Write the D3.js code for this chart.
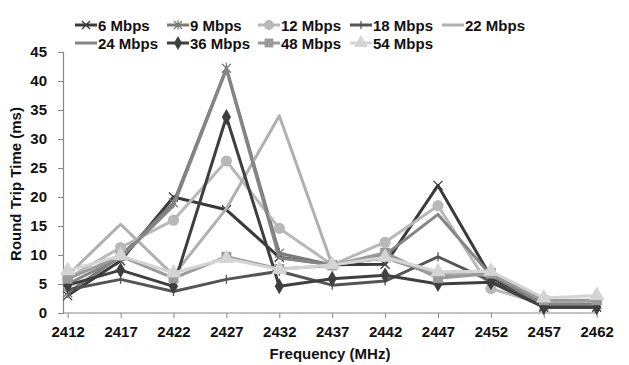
<!DOCTYPE html>
<html>
<head>
<meta charset="utf-8">
<script src="https://cdn.jsdelivr.net/npm/d3@7"></script>
<style>
  body { margin: 0; background: #fff; }
  text { font-family: "Liberation Sans Narrow", "Liberation Sans", Arial, sans-serif; font-weight: bold; fill: #111; }
</style>
</head>
<body>
<div id="chart"></div>
<script>
const frequencies = [2412, 2417, 2422, 2427, 2432, 2437, 2442, 2447, 2452, 2457, 2462];
const seriesNames = ['6 Mbps', '9 Mbps', '12 Mbps', '18 Mbps', '22 Mbps', '24 Mbps', '36 Mbps', '48 Mbps', '54 Mbps'];
const rtt6  = [3.0, 9.0, 20.0, 17.8, 9.6, 8.3, 8.4, 22.0, 6.2, 1.0, 1.0];
const rtt9  = [3.5, 9.8, 19.0, 42.2, 10.3, 8.3, 9.5, 6.5, 7.0, 1.2, 1.5];
const rtt12 = [6.0, 11.3, 16.0, 26.2, 14.6, 8.3, 12.2, 18.5, 4.2, 1.5, 1.8];
const rtt18 = [4.0, 5.8, 3.7, 5.8, 7.2, 4.8, 5.5, 9.7, 5.5, 1.3, 1.3];
const rtt22 = [6.5, 15.3, 6.5, 18.0, 34.0, 8.3, 9.5, 6.8, 6.5, 2.0, 2.2];
const rtt24 = [5.0, 9.5, 18.5, 42.0, 9.5, 8.3, 10.0, 17.0, 6.5, 1.5, 1.5];
const rtt36 = [4.8, 7.4, 4.6, 33.8, 4.6, 5.9, 6.5, 5.0, 5.3, 1.0, 1.0];
const rtt48 = [5.9, 9.8, 6.0, 9.7, 7.6, 8.2, 10.4, 6.0, 6.8, 2.2, 2.2];
const rtt54 = [7.3, 9.9, 6.9, 9.4, 7.5, 8.3, 9.6, 7.1, 7.2, 2.6, 3.0];
const yTicks = [0, 5, 10, 15, 20, 25, 30, 35, 40, 45];

const allValues = [rtt6, rtt9, rtt12, rtt18, rtt22, rtt24, rtt36, rtt48, rtt54];
const colors = ['#3a3a3a', '#7a7a7a', '#b8b8b8', '#555555', '#b0b0b0', '#858585', '#3f3f3f', '#9a9a9a', '#d4d4d4'];
const markers = ['x', 'star', 'circle', 'plus', 'none', 'none', 'diamond', 'square', 'triangle'];

const width = 629, height = 365;
const plotLeft = 63, plotTop = 52, plotBottom = 313;

const svg = d3.select('#chart').append('svg')
  .attr('width', width)
  .attr('height', height);

const x = d3.scalePoint().domain(frequencies).range([67.7, 596.7]);
const y = d3.scaleLinear().domain([0, 45]).range([plotBottom, plotTop]);

// axes
const yAxis = svg.append('g')
  .attr('transform', `translate(${plotLeft},0)`)
  .call(d3.axisLeft(y).tickValues(yTicks).tickSize(5).tickPadding(11));
yAxis.select('.domain').attr('stroke', '#888').attr('stroke-width', 1.2);
yAxis.selectAll('.tick line').attr('stroke', '#888');
yAxis.selectAll('text').style('font-size', '15px');

const xAxis = svg.append('g')
  .attr('transform', `translate(0,${plotBottom})`)
  .call(d3.axisBottom(x).tickSize(5).tickPadding(8));
xAxis.select('.domain').attr('d', `M${plotLeft},0H${597}`).attr('stroke', '#888').attr('stroke-width', 1.2);
xAxis.selectAll('.tick line').attr('stroke', '#888');
xAxis.selectAll('text').style('font-size', '15px');

svg.append('text')
  .attr('x', 330).attr('y', 359)
  .attr('text-anchor', 'middle')
  .style('font-size', '15px')
  .text('Frequency (MHz)');

svg.append('text')
  .attr('transform', 'translate(21,184) rotate(-90)')
  .attr('text-anchor', 'middle')
  .style('font-size', '15px')
  .text('Round Trip Time (ms)');

function drawMarker(g, type, color, size) {
  const s = size;
  if (type === 'circle') {
    g.append('circle').attr('r', s * 0.62).attr('fill', color);
  } else if (type === 'square') {
    g.append('rect').attr('x', -s * 0.55).attr('y', -s * 0.55).attr('width', s * 1.1).attr('height', s * 1.1).attr('fill', color);
  } else if (type === 'triangle') {
    g.append('path').attr('d', d3.symbol(d3.symbolTriangle, s * s * 1.3)()).attr('fill', color);
  } else if (type === 'diamond') {
    g.append('path').attr('d', d3.symbol(d3.symbolDiamond, s * s * 0.9)()).attr('fill', color);
  } else if (type === 'x') {
    g.append('path').attr('d', `M${-s/2},${-s/2}L${s/2},${s/2}M${-s/2},${s/2}L${s/2},${-s/2}`)
      .attr('stroke', color).attr('stroke-width', 1.3);
  } else if (type === 'star') {
    g.append('path').attr('d', `M${-s/2},${-s/2}L${s/2},${s/2}M${-s/2},${s/2}L${s/2},${-s/2}M0,${-s*0.6}V${s*0.6}`)
      .attr('stroke', color).attr('stroke-width', 1.3);
  } else if (type === 'plus') {
    g.append('path').attr('d', `M0,${-s/2}V${s/2}`)
      .attr('stroke', color).attr('stroke-width', 1.3);
  }
}

const line = d3.line()
  .x((d, i) => x(frequencies[i]))
  .y(d => y(d));

const plot = svg.append('g');
allValues.forEach((vals, k) => {
  const g = plot.append('g').attr('class', 'series');
  g.append('path')
    .datum(vals)
    .attr('d', line)
    .attr('fill', 'none')
    .attr('stroke', colors[k])
    .attr('stroke-width', 3)
    .attr('stroke-linejoin', 'round');
  vals.forEach((v, i) => {
    const m = g.append('g').attr('transform', `translate(${x(frequencies[i])},${y(v)})`);
    drawMarker(m, markers[k], colors[k], 9);
  });
});

// legend
const legendX = [75, 167, 258, 350, 442];
const legendY = [25, 43];
seriesNames.forEach((name, k) => {
  const col = k % 5, row = Math.floor(k / 5);
  const g = svg.append('g').attr('transform', `translate(${legendX[col]},${legendY[row]})`);
  g.append('line').attr('x1', 0).attr('x2', 22).attr('y1', 0).attr('y2', 0)
    .attr('stroke', colors[k]).attr('stroke-width', 3);
  const m = g.append('g').attr('transform', 'translate(11,0)');
  drawMarker(m, markers[k], colors[k], 8);
  g.append('text').attr('x', 23).attr('y', 5.5)
    .style('font-size', '15px')
    .text(name);
});
</script>
</body>
</html>
